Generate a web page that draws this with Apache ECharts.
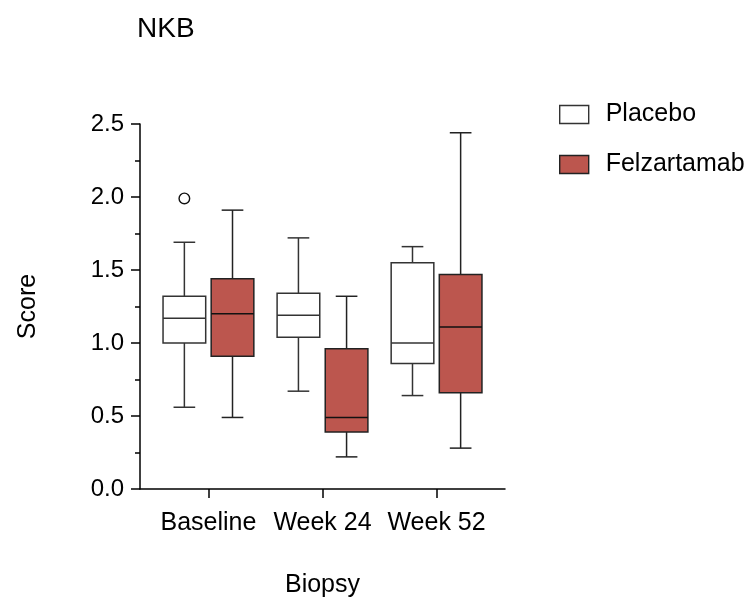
<!DOCTYPE html>
<html>
<head>
<meta charset="utf-8">
<script src="https://cdn.jsdelivr.net/npm/echarts@6/dist/echarts.min.js"></script>
<style>html,body{margin:0;padding:0;background:#fff}#c{width:748px;height:601px}</style>
</head>
<body>
<div id="c"></div>
<script>
// ---- data ----
const categories = ['Baseline', 'Week 24', 'Week 52'];
// [min, Q1, median, Q3, max]
const placeboStats = [
  [0.56, 1.00, 1.17, 1.32, 1.69],
  [0.67, 1.04, 1.19, 1.34, 1.72],
  [0.64, 0.86, 1.00, 1.55, 1.66]
];
const felzStats = [
  [0.49, 0.91, 1.20, 1.44, 1.91],
  [0.22, 0.39, 0.49, 0.96, 1.32],
  [0.28, 0.66, 1.11, 1.47, 2.44]
];
// [category index, value]
const placeboOutliers = [[0, 1.99]];
const yTicks = [0, 0.5, 1.0, 1.5, 2.0, 2.5];

const FONT = 'Liberation Sans, Arial, Helvetica, sans-serif';
const FELZ = '#BC564E';

function toSeriesData(stats) {
  return stats.map((s, i) => [i].concat(s));
}

function makeBoxRender(side, fill, stroke, medianColor) {
  return function (params, api) {
    const x = api.value(0);
    const band = api.size([1, 0])[0];
    const cx = api.coord([x, 0])[0] + side * 0.211 * band;
    const bw = 0.374 * band;
    const cw = 0.19 * band;
    const y = (i) => api.coord([x, api.value(i)])[1];
    const yMin = y(1), yQ1 = y(2), yMed = y(3), yQ3 = y(4), yMax = y(5);
    const ls = { stroke: stroke, lineWidth: 1.5 };
    return {
      type: 'group',
      children: [
        { type: 'line', shape: { x1: cx, y1: yMax, x2: cx, y2: yQ3 }, style: ls },
        { type: 'line', shape: { x1: cx, y1: yQ1, x2: cx, y2: yMin }, style: ls },
        { type: 'line', shape: { x1: cx - cw / 2, y1: yMax, x2: cx + cw / 2, y2: yMax }, style: ls },
        { type: 'line', shape: { x1: cx - cw / 2, y1: yMin, x2: cx + cw / 2, y2: yMin }, style: ls },
        { type: 'rect', shape: { x: cx - bw / 2, y: yQ3, width: bw, height: yQ1 - yQ3 },
          style: { fill: fill, stroke: stroke, lineWidth: 1.5 } },
        { type: 'line', shape: { x1: cx - bw / 2, y1: yMed, x2: cx + bw / 2, y2: yMed },
          style: { stroke: medianColor, lineWidth: 1.6 } }
      ]
    };
  };
}

function makeOutlierRender(side) {
  return function (params, api) {
    const x = api.value(0);
    const band = api.size([1, 0])[0];
    const p = api.coord([x, api.value(1)]);
    return {
      type: 'circle',
      shape: { cx: p[0] + side * 0.211 * band, cy: p[1], r: 5.3 },
      style: { fill: '#fff', stroke: '#111', lineWidth: 1.4 }
    };
  };
}

const chart = echarts.init(document.getElementById('c'), null, { renderer: 'canvas' });
chart.setOption({
  animation: false,
  backgroundColor: '#fff',
  title: {
    text: 'NKB', left: 137, top: 15, padding: 0,
    textStyle: { fontFamily: FONT, fontSize: 28, fontWeight: 'normal', color: '#000' }
  },
  legend: {
    orient: 'vertical', left: 559, top: 102, padding: 0,
    itemWidth: 29, itemHeight: 18, itemGap: 25,
    icon: 'rect',
    textStyle: { fontFamily: FONT, fontSize: 25, color: '#000', padding: [0, 0, 0, 12] },
    data: [
      { name: 'Placebo', itemStyle: { color: '#fff', borderColor: '#333', borderWidth: 1.4 } },
      { name: 'Felzartamab', itemStyle: { color: FELZ, borderColor: '#222', borderWidth: 1.4 } }
    ]
  },
  grid: { left: 140, right: 243, top: 124, bottom: 112, containLabel: false, outerBoundsMode: 'none' },
  xAxis: {
    type: 'value', min: -0.6, max: 2.6,
    splitLine: { show: false },
    axisLine: { show: true, onZero: false, lineStyle: { color: '#000', width: 1.5 } },
    axisTick: { show: true, customValues: [0, 1, 2], length: 9, lineStyle: { color: '#000', width: 1.5 } },
    axisLabel: {
      customValues: [0, 1, 2], margin: 22,
      formatter: (v) => categories[Math.round(v)] || '',
      fontFamily: FONT, fontSize: 25, color: '#000'
    },
    name: 'Biopsy', nameLocation: 'middle', nameGap: 84,
    nameTextStyle: { fontFamily: FONT, fontSize: 25, color: '#000' }
  },
  yAxis: {
    type: 'value', min: 0, max: 2.5, interval: 0.5,
    splitLine: { show: false },
    axisLine: { show: true, onZero: false, lineStyle: { color: '#000', width: 1.5 } },
    axisTick: { show: true, length: 9, lineStyle: { color: '#000', width: 1.5 } },
    minorTick: { show: true, splitNumber: 2, length: 5, lineStyle: { color: '#000', width: 1.5 } },
    axisLabel: {
      margin: 16, fontFamily: FONT, fontSize: 24, color: '#000',
      formatter: (v) => v.toFixed(1)
    },
    name: 'Score', nameLocation: 'middle', nameGap: 99, nameRotate: 90,
    nameTextStyle: { fontFamily: FONT, fontSize: 25, color: '#000' }
  },
  series: [
    {
      name: 'Placebo', type: 'custom',
      itemStyle: { color: '#fff', borderColor: '#333' },
      encode: { x: 0, y: [1, 2, 3, 4, 5] },
      renderItem: makeBoxRender(-1, '#fff', '#333', '#333'),
      data: toSeriesData(placeboStats)
    },
    {
      name: 'Felzartamab', type: 'custom',
      itemStyle: { color: FELZ, borderColor: '#222' },
      encode: { x: 0, y: [1, 2, 3, 4, 5] },
      renderItem: makeBoxRender(1, FELZ, '#222', '#111'),
      data: toSeriesData(felzStats)
    },
    {
      name: 'Placebo outliers', type: 'custom',
      encode: { x: 0, y: 1 },
      renderItem: makeOutlierRender(-1),
      data: placeboOutliers
    }
  ]
});
</script>
</body>
</html>
